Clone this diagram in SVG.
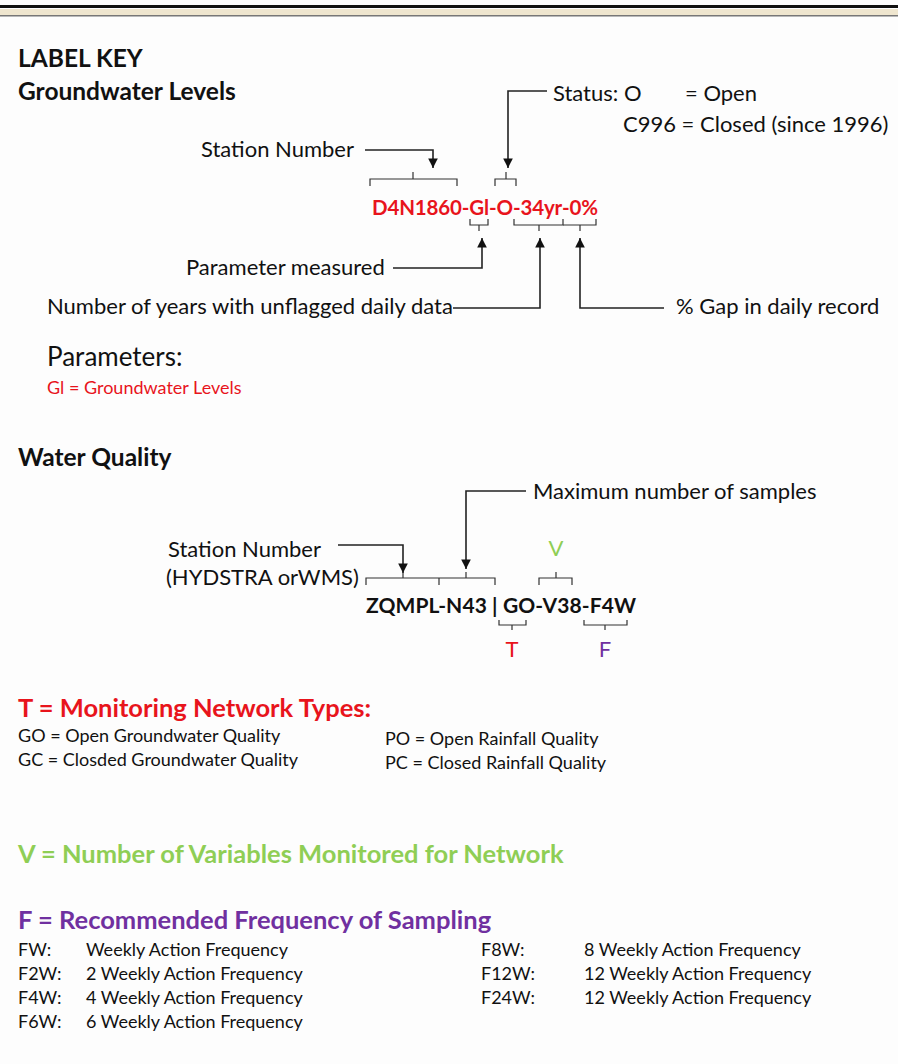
<svg xmlns="http://www.w3.org/2000/svg" width="898" height="1064" viewBox="0 0 898 1064">
<defs>
<style>
text{font-family:Lato,"Open Sans","Liberation Sans",sans-serif;fill:#111}
.b{font-weight:bold}
.h{font-size:24.5px;font-weight:bold}
.t{font-size:22px}
.s{font-size:18px}
.red{fill:#e8141c}
.grn{fill:#8fce55}
.pur{fill:#7030a0}
.big{font-size:25.5px;font-weight:bold}
.ln{fill:none;stroke:#222;stroke-width:1.6}
.br{fill:none;stroke:#333;stroke-width:1.2}
</style>
<marker id="ah" viewBox="0 0 10 10" refX="10" refY="5" markerWidth="6" markerHeight="6" orient="auto"><path d="M0,0 L10,5 L0,10 z" fill="#111"/></marker>
</defs>
<rect width="898" height="1064" fill="#fdfdfd"/>
<g id="topbar">
<rect x="0" y="5" width="898" height="3" fill="#111"/>
<rect x="0" y="9" width="898" height="6" fill="#efe6cf"/>
<rect x="0" y="15" width="898" height="1.5" fill="#777"/>
</g>
<g id="titles">
<text x="18" y="67" class="h">LABEL KEY</text>
<text x="18" y="100" class="h">Groundwater Levels</text>
<text x="18" y="466" class="h">Water Quality</text>
</g>
<g id="gw-code">
<text x="372" y="215" class="red b" font-size="20.5" textLength="226">D4N1860-Gl-O-34yr-0%</text>
</g>
<g id="gw-status">
<text x="553" y="101" class="t">Status: O</text>
<text x="685" y="101" class="t">= Open</text>
<text x="623" y="132" class="t">C996 = Closed (since 1996)</text>
</g>
<g id="gw-station"><text x="201" y="157" class="t">Station Number</text></g>
<g id="gw-param"><text x="186" y="275" class="t">Parameter measured</text></g>
<g id="gw-years"><text x="47" y="314" class="t">Number of years with unflagged daily data</text></g>
<g id="gw-gap"><text x="676" y="314" class="t">% Gap in daily record</text></g>
<g id="gw-params">
<text x="47" y="366" font-size="26">Parameters:</text>
<text x="47" y="394" class="red" font-size="18">Gl = Groundwater Levels</text>
</g>
<g id="wq-code">
<text x="366" y="613" class="b" font-size="21" textLength="270">ZQMPL-N43 | GO-V38-F4W</text>
</g>
<g id="wq-max"><text x="533" y="499" class="t">Maximum number of samples</text></g>
<g id="wq-station">
<text x="168" y="557" class="t">Station Number</text>
<text x="166" y="585" class="t">(HYDSTRA orWMS)</text>
</g>
<g id="wq-v"><text x="556" y="556" class="grn t" text-anchor="middle">V</text></g>
<g id="wq-t"><text x="512" y="657" class="red t" text-anchor="middle">T</text></g>
<g id="wq-f"><text x="605" y="657" class="pur t" text-anchor="middle">F</text></g>
<g id="connectors">
<path class="ln" d="M365,150 H433 V168" marker-end="url(#ah)"/>
<path class="ln" d="M547,91 H508 V168" marker-end="url(#ah)"/>
<path class="ln" d="M393,268 H482 V238" marker-end="url(#ah)"/>
<path class="ln" d="M453,308 H540 V238" marker-end="url(#ah)"/>
<path class="ln" d="M664,308 H580 V238" marker-end="url(#ah)"/>
<path class="ln" d="M526,491 H466 V569" marker-end="url(#ah)"/>
<path class="ln" d="M338,545 H403 V573" marker-end="url(#ah)"/>
</g>
<g id="brackets">
<path class="br" d="M370,186 V179 H457 V186 M413,179 V172"/>
<path class="br" d="M495,186 V179 H516 V186 M506,179 V172"/>
<path class="br" d="M470,219 V225 H488 V219 M479,225 V231"/>
<path class="br" d="M514,219 V225 H563 V219 M539,225 V231"/>
<path class="br" d="M563,225 H596 V219 M580,225 V231"/>
<path class="br" d="M366,585 V578 H495 V585 M439,578 V585 M403,578 V572 M466,578 V572"/>
<path class="br" d="M539,585 V578 H572 V585 M556,578 V572"/>
<path class="br" d="M499,620 V625 H526 V620 M512,625 V630"/>
<path class="br" d="M584,620 V625 H627 V620 M605,625 V630"/>
</g>
<g id="t-key">
<text x="18" y="717" class="red big">T = Monitoring Network Types:</text>
<text x="18" y="742" class="s">GO = Open Groundwater Quality</text>
<text x="18" y="766" class="s">GC = Closded Groundwater Quality</text>
<text x="385" y="745" class="s">PO = Open Rainfall Quality</text>
<text x="385" y="769" class="s">PC = Closed Rainfall Quality</text>
</g>
<g id="v-key">
<text x="18" y="863" class="grn big">V = Number of Variables Monitored for Network</text>
</g>
<g id="f-key">
<text x="18" y="929" class="pur big">F = Recommended Frequency of Sampling</text>
<text x="18" y="956" class="s">FW:</text><text x="86" y="956" class="s">Weekly Action Frequency</text>
<text x="18" y="980" class="s">F2W:</text><text x="86" y="980" class="s">2 Weekly Action Frequency</text>
<text x="18" y="1004" class="s">F4W:</text><text x="86" y="1004" class="s">4 Weekly Action Frequency</text>
<text x="18" y="1028" class="s">F6W:</text><text x="86" y="1028" class="s">6 Weekly Action Frequency</text>
<text x="481" y="956" class="s">F8W:</text><text x="584" y="956" class="s">8 Weekly Action Frequency</text>
<text x="481" y="980" class="s">F12W:</text><text x="584" y="980" class="s">12 Weekly Action Frequency</text>
<text x="481" y="1004" class="s">F24W:</text><text x="584" y="1004" class="s">12 Weekly Action Frequency</text>
</g>
</svg>
